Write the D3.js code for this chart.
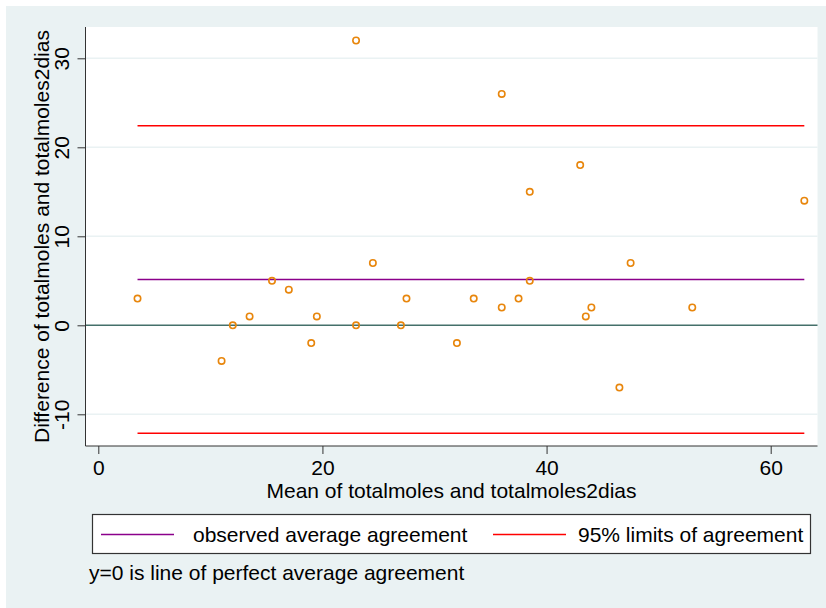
<!DOCTYPE html>
<html>
<head>
<meta charset="utf-8">
<script src="https://cdn.jsdelivr.net/npm/d3@7"></script>
<style>
  body { margin: 0; background: #fff; }
  svg text { font-family: "Liberation Sans", Arial, Helvetica, sans-serif; fill: #000; }
</style>
</head>
<body>
<div id="chart"></div>
<script>
// Bland-Altman data
const meanVals = [3.5, 11, 12, 13.5, 15.5, 17, 19, 19.5, 23, 23, 24.5, 27, 27.5, 32, 33.5, 36, 36, 37.5, 38.5, 38.5, 43, 43.5, 44, 46.5, 47.5, 53, 63];
const diffVals = [3, -4, 0, 1, 5, 4, -2, 1, 32, 0, 7, 0, 3, -2, 3, 26, 2, 3, 15, 5, 18, 1, 2, -7, 7, 2, 14];
const meanDiff = 5.15;
const limits = [22.43, -12.13];
const xTicks = [0, 20, 40, 60];
const yTicks = [-10, 0, 10, 20, 30];
const legendLabels = ["observed average agreement", "95% limits of agreement"];

document.addEventListener('DOMContentLoaded', function () {
    const W = 826, H = 608;
    const plot = { left: 85.5, right: 817.5, top: 27, bottom: 446 };
    const fontSize = 21;

    const svg = d3.select("#chart").append("svg")
        .attr("width", W)
        .attr("height", H);

    // graph region background
    svg.append("rect")
        .attr("x", 6).attr("y", 6)
        .attr("width", W - 6).attr("height", H - 6)
        .attr("fill", "#eaf2f3");

    // plot region
    svg.append("rect")
        .attr("x", plot.left).attr("y", plot.top)
        .attr("width", plot.right - plot.left)
        .attr("height", plot.bottom - plot.top)
        .attr("fill", "#fff");

    const x = d3.scaleLinear().domain([0, 60]).range([98.3, 770.7]);
    const y = d3.scaleLinear().domain([-10, 30]).range([414.3, 58.3]);

    // gridlines
    svg.append("g")
        .selectAll("line")
        .data(yTicks.filter(d => d !== 0))
        .enter()
        .append("line")
        .attr("x1", plot.left).attr("x2", plot.right)
        .attr("y1", d => y(d)).attr("y2", d => y(d))
        .attr("stroke", "#eaf2f3")
        .attr("stroke-width", 1.5);

    // line of perfect agreement
    svg.append("line")
        .attr("x1", plot.left).attr("x2", plot.right)
        .attr("y1", y(0)).attr("y2", y(0))
        .attr("stroke", "#44706a")
        .attr("stroke-width", 1.5);

    const xr = d3.extent(meanVals);

    // limits of agreement
    svg.selectAll(".loa")
        .data(limits)
        .enter()
        .append("line")
        .attr("class", "loa")
        .attr("x1", x(xr[0])).attr("x2", x(xr[1]))
        .attr("y1", d => y(d)).attr("y2", d => y(d))
        .attr("stroke", "#ff0000")
        .attr("stroke-width", 1.5);

    // average agreement
    svg.append("line")
        .attr("x1", x(xr[0])).attr("x2", x(xr[1]))
        .attr("y1", y(meanDiff)).attr("y2", y(meanDiff))
        .attr("stroke", "#8b008b")
        .attr("stroke-width", 1.5);

    // points
    svg.append("g")
        .selectAll("circle")
        .data(meanVals.map((m, i) => ({ m: m, d: diffVals[i] })))
        .enter()
        .append("circle")
        .attr("cx", d => x(d.m))
        .attr("cy", d => y(d.d))
        .attr("r", 3.2)
        .attr("fill", "none")
        .attr("stroke", "#e8860c")
        .attr("stroke-width", 1.6);

    // y axis (plain hyphen for negatives, like the original)
    const yAxis = svg.append("g")
        .attr("transform", `translate(${plot.left},0)`)
        .call(d3.axisLeft(y).tickValues(yTicks).tickSize(8).tickSizeOuter(0).tickFormat(d => String(d)));
    yAxis.select(".domain").attr("d", `M0,${plot.top}V${plot.bottom}`).attr("stroke", "#333");
    yAxis.selectAll(".tick line").attr("stroke", "#333");
    yAxis.selectAll(".tick text")
        .attr("font-size", fontSize)
        .attr("x", null).attr("dy", null)
        .attr("text-anchor", "middle")
        .attr("transform", "translate(-16.5,0) rotate(-90)");

    // x axis
    const xAxis = svg.append("g")
        .attr("transform", `translate(0,${plot.bottom})`)
        .call(d3.axisBottom(x).tickValues(xTicks).tickSize(8).tickSizeOuter(0));
    xAxis.select(".domain").attr("d", `M${plot.left},0H${plot.right}`).attr("stroke", "#333");
    xAxis.selectAll(".tick line").attr("stroke", "#333");
    xAxis.selectAll(".tick text")
        .attr("font-size", fontSize)
        .attr("y", 29).attr("dy", null);

    // axis titles
    svg.append("text")
        .attr("x", (plot.left + plot.right) / 2)
        .attr("y", 498)
        .attr("text-anchor", "middle")
        .attr("font-size", fontSize)
        .text("Mean of totalmoles and totalmoles2dias");

    svg.append("text")
        .attr("transform", `translate(49,${(plot.top + plot.bottom) / 2}) rotate(-90)`)
        .attr("text-anchor", "middle")
        .attr("font-size", fontSize)
        .text("Difference of totalmoles and totalmoles2dias");

    // legend
    const legend = svg.append("g");
    legend.append("rect")
        .attr("x", 92.5).attr("y", 514.5)
        .attr("width", 718).attr("height", 39)
        .attr("fill", "#fff")
        .attr("stroke", "#333")
        .attr("stroke-width", 1.2);

    const legendItems = [
        { label: legendLabels[0], color: "#8b008b", x0: 101, tx: 193 },
        { label: legendLabels[1], color: "#ff0000", x0: 493, tx: 578 }
    ];
    legendItems.forEach(item => {
        legend.append("line")
            .attr("x1", item.x0).attr("x2", item.x0 + 73)
            .attr("y1", 534.5).attr("y2", 534.5)
            .attr("stroke", item.color)
            .attr("stroke-width", 1.5);
        legend.append("text")
            .attr("x", item.tx).attr("y", 542)
            .attr("font-size", fontSize)
            .text(item.label);
    });

    // note
    svg.append("text")
        .attr("x", 89).attr("y", 580)
        .attr("font-size", fontSize)
        .text("y=0 is line of perfect average agreement");
});
</script>
</body>
</html>
